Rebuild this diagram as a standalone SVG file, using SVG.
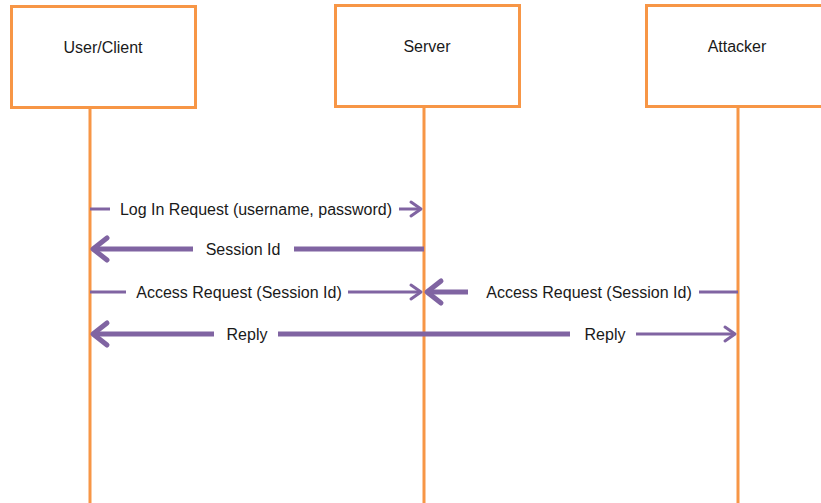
<svg xmlns="http://www.w3.org/2000/svg" width="821" height="503" viewBox="0 0 821 503">
<style>
.box{fill:#fff;stroke:#F79646;stroke-width:3}
.life{stroke:#F79646;stroke-width:3;fill:none}
.thin{stroke:#8064A2;stroke-width:3;fill:none}
.thick{stroke:#8064A2;stroke-width:5;fill:none}
text{font-family:"Liberation Sans",Arial,sans-serif;font-size:16px;fill:#1a1a1a;text-anchor:middle}
</style>
<defs>
<marker id="hs" markerUnits="userSpaceOnUse" markerWidth="16" markerHeight="18" refX="12" refY="8" orient="auto" overflow="visible">
<path d="M2,1 L12,8 L2,15" fill="none" stroke="#8064A2" stroke-width="3" stroke-linecap="round" stroke-linejoin="round"/>
</marker>
<marker id="hb" markerUnits="userSpaceOnUse" markerWidth="22" markerHeight="26" refX="17" refY="12" orient="auto" overflow="visible">
<path d="M3,1 L17,12 L3,23" fill="none" stroke="#8064A2" stroke-width="5" stroke-linecap="round" stroke-linejoin="round"/>
</marker>
</defs>
<rect width="821" height="503" fill="#fff"/>
<g id="lifelines">
<line class="life" x1="90" y1="108" x2="90" y2="503"/>
<line class="life" x1="424" y1="107" x2="424" y2="503"/>
<line class="life" x1="738" y1="107" x2="738" y2="503"/>
</g>
<g id="user"><rect class="box" x="11.5" y="6.5" width="184" height="101"/><text x="103" y="53">User/Client</text></g>
<g id="server"><rect class="box" x="335.5" y="5.5" width="184" height="101"/><text x="427" y="52">Server</text></g>
<g id="attacker"><rect class="box" x="646.5" y="5.5" width="190" height="101"/><text x="737" y="52">Attacker</text></g>
<g id="connectors">
<line class="thin" x1="90" y1="209" x2="110" y2="209"/>
<line class="thin" x1="399" y1="209" x2="421" y2="209" marker-end="url(#hs)"/>
<text x="256" y="215">Log In Request (username, password)</text>
<line class="thick" x1="424" y1="249" x2="294" y2="249"/>
<line class="thick" x1="193" y1="249" x2="93" y2="249" marker-end="url(#hb)"/>
<text x="243" y="255">Session Id</text>
<line class="thin" x1="90" y1="292" x2="126" y2="292"/>
<line class="thin" x1="348" y1="292" x2="421" y2="292" marker-end="url(#hs)"/>
<text x="239" y="298">Access Request (Session Id)</text>
<line class="thin" x1="738" y1="292" x2="699" y2="292"/>
<line class="thick" x1="468" y1="292" x2="427" y2="292" marker-end="url(#hb)"/>
<text x="589" y="298">Access Request (Session Id)</text>
<line class="thick" x1="214" y1="334" x2="93" y2="334" marker-end="url(#hb)"/>
<line class="thick" x1="278" y1="334" x2="570" y2="334"/>
<text x="247" y="340">Reply</text>
<line class="thin" x1="636" y1="334" x2="735" y2="334" marker-end="url(#hs)"/>
<text x="605" y="340">Reply</text>
</g>
</svg>
